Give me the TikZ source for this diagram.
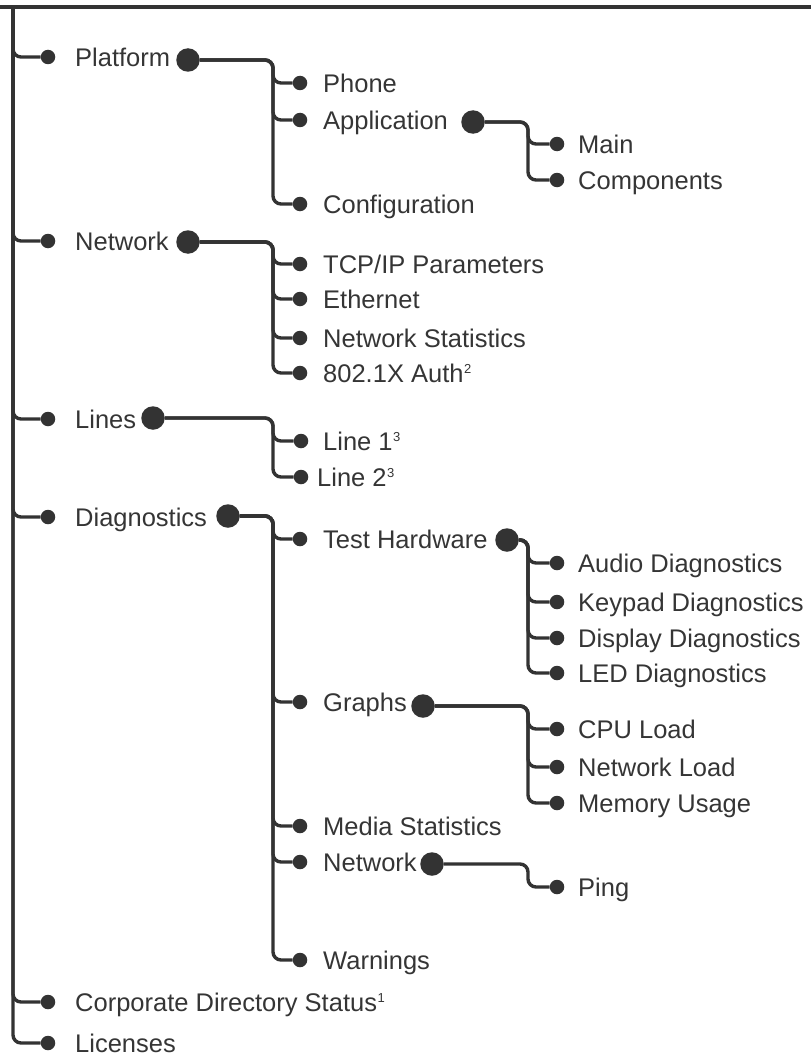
\documentclass[tikz,border=0pt]{standalone}
\usepackage{fontspec}
\setmainfont{Liberation Sans}
\definecolor{lc}{HTML}{333333}
\definecolor{tc}{HTML}{353535}
\newcommand\supnum[1]{\kern0.5pt\raisebox{9pt}{\fontsize{13}{13}\selectfont #1}}
\begin{document}
\begin{tikzpicture}[x=1pt,y=-1pt,
  conn/.style={draw=lc,line width=3.4pt,rounded corners=8pt},
  topline/.style={draw=lc,line width=4pt},
  sd/.style={circle,fill=lc,inner sep=0pt,minimum size=14.5pt},
  bd/.style={circle,fill=lc,inner sep=0pt,minimum size=23.5pt},
  lbl/.style={anchor=base west,inner sep=0pt,text=tc,font=\fontsize{25.5}{30}\selectfont}]
\useasboundingbox (0,0) rectangle (811,1062);
\coordinate (tl) at (0,7);
\coordinate (tr) at (811,7);
\coordinate (root) at (13,7);
\draw[topline] (tl) -- (tr);

% ---------- level 1 ----------
\node[sd] (platD) at (48,57) {};   \node[lbl] (platL) at (75,66.2) {Platform};
\node[bd] (platB) at (188,60) {};  \coordinate (platS) at (273,60);
\node[sd] (netD) at (48,241) {};   \node[lbl] (netL) at (75,250.2) {Network};
\node[bd] (netB) at (188,242) {};  \coordinate (netS) at (273,242);
\node[sd] (linD) at (48,419) {};   \node[lbl] (linL) at (75,428.2) {Lines};
\node[bd] (linB) at (153,418) {};  \coordinate (linS) at (273,418);
\node[sd] (diaD) at (48,517) {};   \node[lbl] (diaL) at (75,526.2) {Diagnostics};
\node[bd] (diaB) at (228,516) {};  \coordinate (diaS) at (273,516);
\node[sd] (corD) at (48,1002) {};  \node[lbl] (corL) at (75,1011.2) {Corporate Directory Status\supnum{1}};
\node[sd] (licD) at (48,1043) {};  \node[lbl] (licL) at (75,1052.2) {Licenses};

\foreach \c in {platD,netD,linD,diaD,corD,licD} \draw[conn] (root) |- (\c);

% ---------- Platform ----------
\node[sd] (phoD) at (300,83) {};   \node[lbl] (phoL) at (323,92.2) {Phone};
\node[sd] (appD) at (300,120) {};  \node[lbl] (appL) at (323,129.2) {Application};
\node[bd] (appB) at (473,122) {};  \coordinate (appS) at (528,122);
\node[sd] (cfgD) at (300,204) {};  \node[lbl] (cfgL) at (323,213.2) {Configuration};
\foreach \c in {phoD,appD,cfgD} \draw[conn] (platB) -- (platS) |- (\c);

\node[sd] (mainD) at (557,144) {}; \node[lbl] (mainL) at (578,153.2) {Main};
\node[sd] (compD) at (557,180) {}; \node[lbl] (compL) at (578,189.2) {Components};
\foreach \c in {mainD,compD} \draw[conn] (appB) -- (appS) |- (\c);

% ---------- Network ----------
\node[sd] (tcpD) at (300,264) {};  \node[lbl] (tcpL) at (323,273.2) {TCP/IP Parameters};
\node[sd] (ethD) at (300,299) {};  \node[lbl] (ethL) at (323,308.2) {Ethernet};
\node[sd] (nstD) at (300,338) {};  \node[lbl] (nstL) at (323,347.2) {Network Statistics};
\node[sd] (autD) at (300,373) {};  \node[lbl] (autL) at (323,382.2) {802.1X Auth\supnum{2}};
\foreach \c in {tcpD,ethD,nstD,autD} \draw[conn] (netB) -- (netS) |- (\c);

% ---------- Lines ----------
\node[sd] (l1D) at (301,441) {};   \node[lbl] (l1L) at (323,450.2) {Line 1\supnum{3}};
\node[sd] (l2D) at (301,477) {};   \node[lbl] (l2L) at (317,486.2) {Line 2\supnum{3}};
\foreach \c in {l1D,l2D} \draw[conn] (linB) -- (linS) |- (\c);

% ---------- Diagnostics ----------
\node[sd] (thwD) at (300,539) {};  \node[lbl] (thwL) at (323,548.2) {Test Hardware};
\node[bd] (thwB) at (507,540) {};  \coordinate (thwS) at (528,540);
\node[sd] (grD) at (300,702) {};   \node[lbl] (grL) at (323,711.2) {Graphs};
\node[bd] (grB) at (423,706) {};   \coordinate (grS) at (528,706);
\node[sd] (medD) at (300,826) {};  \node[lbl] (medL) at (323,835.2) {Media Statistics};
\node[sd] (dnD) at (300,862) {};   \node[lbl] (dnL) at (323,871.2) {Network};
\node[bd] (dnB) at (432,864) {};   \coordinate (dnS) at (528,864);
\node[sd] (warD) at (300,960) {};  \node[lbl] (warL) at (323,969.2) {Warnings};
\foreach \c in {thwD,grD,medD,dnD,warD} \draw[conn] (diaB) -- (diaS) |- (\c);

\node[sd] (audD) at (557,563) {};  \node[lbl] (audL) at (578,572.2) {Audio Diagnostics};
\node[sd] (keyD) at (557,602) {};  \node[lbl] (keyL) at (578,611.2) {Keypad Diagnostics};
\node[sd] (disD) at (557,638) {};  \node[lbl] (disL) at (578,647.2) {Display Diagnostics};
\node[sd] (ledD) at (557,673) {};  \node[lbl] (ledL) at (578,682.2) {LED Diagnostics};
\foreach \c in {audD,keyD,disD,ledD} \draw[conn] (thwB) -- (thwS) |- (\c);

\node[sd] (cpuD) at (557,729) {};  \node[lbl] (cpuL) at (578,738.2) {CPU Load};
\node[sd] (nldD) at (557,767) {};  \node[lbl] (nldL) at (578,776.2) {Network Load};
\node[sd] (memD) at (557,803) {};  \node[lbl] (memL) at (578,812.2) {Memory Usage};
\foreach \c in {cpuD,nldD,memD} \draw[conn] (grB) -- (grS) |- (\c);

\node[sd] (pinD) at (557,887) {};  \node[lbl] (pinL) at (578,896.2) {Ping};
\draw[conn] (dnB) -- (dnS) |- (pinD);
\end{tikzpicture}
\end{document}
